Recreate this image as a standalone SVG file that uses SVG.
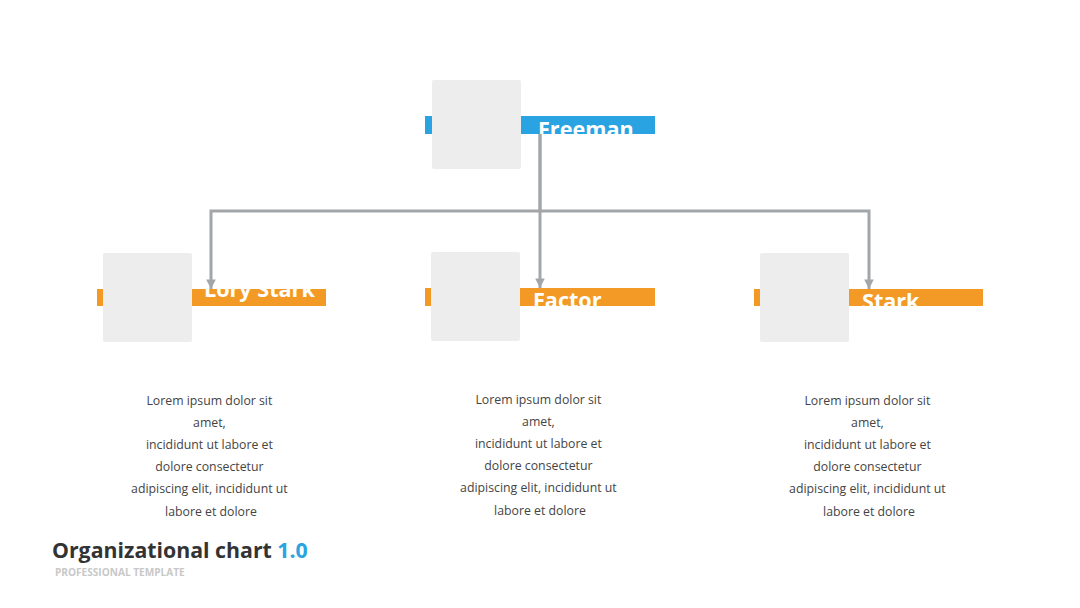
<svg xmlns="http://www.w3.org/2000/svg" width="1080" height="608" viewBox="0 0 1080 608">
  <defs>
    <style>
      .photo { fill: #EDEDED; }
      .bar-blue { fill: #29A3E1; }
      .bar-orange { fill: #F39A26; }
      .name { font-family: "Open Sans", "Liberation Sans", sans-serif; font-weight: 700; font-size: 21.6px; fill: #FFFFFF; }
      .desc { font-family: "Open Sans", "Liberation Sans", sans-serif; font-size: 12.3px; fill: #444444; text-anchor: middle; }
      .conn { fill: none; stroke: #A3A6A8; stroke-width: 3; }
      .title { font-family: "Open Sans", "Liberation Sans", sans-serif; font-weight: 700; font-size: 21.3px; fill: #333333; }
      .sub { font-family: "Open Sans", "Liberation Sans", sans-serif; font-weight: 700; font-size: 10.1px; fill: #C8C8C8; }
    </style>
    <marker id="arrow" viewBox="0 0 10 10" refX="10" refY="5" markerWidth="3.2" markerHeight="3.2" orient="auto" markerUnits="strokeWidth">
      <path d="M0,0 L10,5 L0,10 z" fill="#A3A6A8"/>
    </marker>
  </defs>

  <rect width="1080" height="608" fill="#FFFFFF"/>

  <g id="node-freeman">
    <rect class="bar-blue" x="425" y="116" width="230" height="18"/>
    <rect class="photo" x="432" y="80" width="89" height="89" rx="2"/>
    <text class="name" x="538" y="136.5">Freeman</text>
  </g>

  <g id="node-lory-stark">
    <rect class="bar-orange" x="97" y="289" width="229" height="17"/>
    <rect class="photo" x="103" y="253" width="89" height="89" rx="2"/>
    <text class="name" x="204" y="297">Lory Stark</text>
    <text class="desc" x="211">
      <tspan x="211" y="404.5">Lorem ipsum dolor sit</tspan>
      <tspan x="211" y="426.5">amet,</tspan>
      <tspan x="211" y="448.5">incididunt ut labore et</tspan>
      <tspan x="211" y="471">dolore consectetur</tspan>
      <tspan x="211" y="493">adipiscing elit, incididunt ut</tspan>
      <tspan x="211" y="515.5">labore et dolore</tspan>
    </text>
  </g>

  <g id="node-factor">
    <rect class="bar-orange" x="425" y="288" width="230" height="18"/>
    <rect class="photo" x="431" y="252" width="89" height="89" rx="2"/>
    <text class="name" x="533" y="307.5">Factor</text>
    <text class="desc" x="540">
      <tspan x="540" y="403.5">Lorem ipsum dolor sit</tspan>
      <tspan x="540" y="425.5">amet,</tspan>
      <tspan x="540" y="447.5">incididunt ut labore et</tspan>
      <tspan x="540" y="470">dolore consectetur</tspan>
      <tspan x="540" y="492">adipiscing elit, incididunt ut</tspan>
      <tspan x="540" y="514.5">labore et dolore</tspan>
    </text>
  </g>

  <g id="node-stark">
    <rect class="bar-orange" x="754" y="289" width="229" height="17"/>
    <rect class="photo" x="760" y="253" width="89" height="89" rx="2"/>
    <text class="name" x="862" y="309">Stark</text>
    <text class="desc" x="869">
      <tspan x="869" y="404.5">Lorem ipsum dolor sit</tspan>
      <tspan x="869" y="426.5">amet,</tspan>
      <tspan x="869" y="448.5">incididunt ut labore et</tspan>
      <tspan x="869" y="471">dolore consectetur</tspan>
      <tspan x="869" y="493">adipiscing elit, incididunt ut</tspan>
      <tspan x="869" y="515.5">labore et dolore</tspan>
    </text>
  </g>

  <g id="connectors">
    <path class="conn" d="M540,134 L540,211 L211,211 L211,289" marker-end="url(#arrow)"/>
    <path class="conn" d="M540,134 L540,288" marker-end="url(#arrow)"/>
    <path class="conn" d="M540,211 L869,211 L869,289" marker-end="url(#arrow)"/>
  </g>

  <g id="title">
    <text class="title" x="52" y="558">Organizational chart <tspan fill="#29A3E1">1.0</tspan></text>
    <text class="sub" x="55" y="576">PROFESSIONAL TEMPLATE</text>
  </g>
</svg>
